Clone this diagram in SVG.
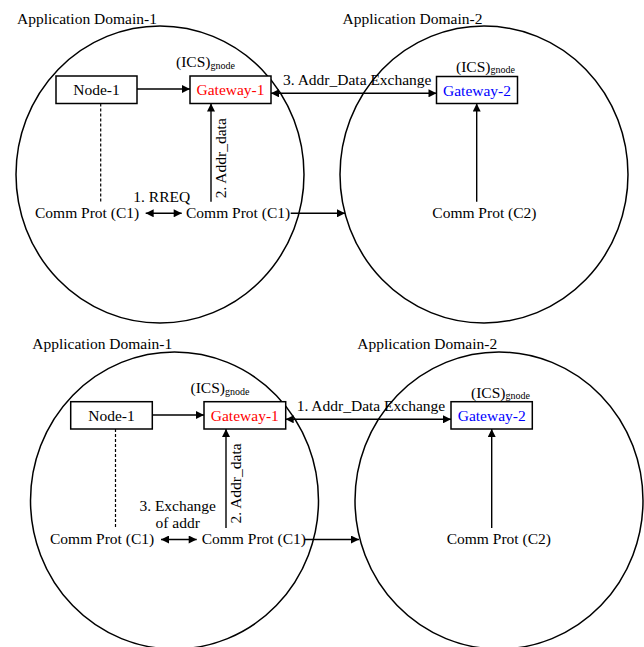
<svg xmlns="http://www.w3.org/2000/svg" width="644" height="647" viewBox="0 0 644 647">
<defs>
<marker id="ah" viewBox="0 0 10 10" refX="10" refY="5" markerWidth="9" markerHeight="8" markerUnits="userSpaceOnUse" orient="auto-start-reverse">
<path d="M0,0 L10,5 L0,10 z" fill="#000"/>
</marker>
<style>
text{font-family:"Liberation Serif","Times New Roman",serif;font-size:15.5px;fill:#000}
.sub{font-size:10px}
.dom{fill:none;stroke:#000;stroke-width:1.5}
.box{fill:#fff;stroke:#000;stroke-width:1.5}
.ln{fill:none;stroke:#000;stroke-width:1.4}
.arr{fill:none;stroke:#000;stroke-width:1.4;marker-end:url(#ah)}
.darr{fill:none;stroke:#000;stroke-width:1.4;marker-end:url(#ah);marker-start:url(#ah)}
.dot{fill:none;stroke:#000;stroke-width:1.2;stroke-dasharray:3,2}
.red{fill:#ff0000}
.blue{fill:#0000ff}
.mid{text-anchor:middle}
</style>
</defs>
<rect width="644" height="647" fill="#fff"/>

<!-- Top scenario -->
<g id="domain1-top">
<ellipse class="dom" cx="160" cy="174.5" rx="144" ry="148.5"/>
<text x="17" y="23.5">Application Domain-1</text>
</g>
<g id="domain2-top">
<ellipse class="dom" cx="484" cy="174.5" rx="144" ry="148.5"/>
<text x="342.5" y="23.5">Application Domain-2</text>
</g>
<g id="node1-top">
<rect class="box" x="56" y="76" width="81" height="27.5"/>
<text class="mid" x="96.5" y="95">Node-1</text>
</g>
<g id="gateway1-top">
<rect class="box" x="190" y="76" width="81" height="27.5"/>
<text class="mid red" x="230.5" y="95">Gateway-1</text>
<text x="176" y="67.3">(ICS)<tspan class="sub" dy="1.5">gnode</tspan></text>
</g>
<g id="gateway2-top">
<rect class="box" x="436.5" y="76.5" width="81" height="27"/>
<text class="mid blue" x="477" y="95.5">Gateway-2</text>
<text x="456" y="71.5">(ICS)<tspan class="sub" dy="1.5">gnode</tspan></text>
</g>
<g id="commC1a-top"><text x="35" y="218.3">Comm Prot (C1)</text></g>
<g id="commC1b-top"><text x="186" y="218.3">Comm Prot (C1)</text></g>
<g id="commC2-top"><text x="432.3" y="218.3">Comm Prot (C2)</text></g>

<g id="connectors-top">
<line class="arr" x1="137" y1="89" x2="190" y2="89"/>
<line class="darr" x1="271" y1="93.3" x2="436.5" y2="93.3"/>
<text x="283" y="85">3. Addr_Data Exchange</text>
<line class="dot" x1="100.7" y1="103.5" x2="100.7" y2="202"/>
<line class="darr" x1="145.7" y1="213.3" x2="181.7" y2="213.3"/>
<text x="133.3" y="201.7">1. RREQ</text>
<line class="arr" x1="290.7" y1="213.3" x2="345" y2="213.3"/>
<line class="arr" x1="211" y1="201.7" x2="211" y2="103.5"/>
<text transform="translate(226,198.3) rotate(-90)">2. Addr_data</text>
<line class="arr" x1="476.7" y1="201.7" x2="476.7" y2="103.5"/>
</g>

<!-- Bottom scenario -->
<g id="domain1-bottom">
<ellipse class="dom" cx="174.5" cy="500.5" rx="144" ry="148.5"/>
<text x="32.3" y="349.3">Application Domain-1</text>
</g>
<g id="domain2-bottom">
<ellipse class="dom" cx="499" cy="500.5" rx="144" ry="148.5"/>
<text x="357.3" y="349.3">Application Domain-2</text>
</g>
<g id="node1-bottom">
<rect class="box" x="70.7" y="401.7" width="81.6" height="27.3"/>
<text class="mid" x="111.5" y="421">Node-1</text>
</g>
<g id="gateway1-bottom">
<rect class="box" x="204" y="401.7" width="81.7" height="27.3"/>
<text class="mid red" x="244.8" y="421">Gateway-1</text>
<text x="190.5" y="393.3">(ICS)<tspan class="sub" dy="1.5">gnode</tspan></text>
</g>
<g id="gateway2-bottom">
<rect class="box" x="451" y="401.7" width="81.3" height="27.3"/>
<text class="mid blue" x="491.7" y="421">Gateway-2</text>
<text x="471" y="397.5">(ICS)<tspan class="sub" dy="1.5">gnode</tspan></text>
</g>
<g id="commC1a-bottom"><text x="50" y="544">Comm Prot (C1)</text></g>
<g id="commC1b-bottom"><text x="201.7" y="544">Comm Prot (C1)</text></g>
<g id="commC2-bottom"><text x="446.7" y="544">Comm Prot (C2)</text></g>

<g id="connectors-bottom">
<line class="arr" x1="152.3" y1="415" x2="204" y2="415"/>
<line class="darr" x1="285.7" y1="419.3" x2="451" y2="419.3"/>
<text x="296.7" y="411">1. Addr_Data Exchange</text>
<line class="dot" x1="115.5" y1="429" x2="115.5" y2="528"/>
<line class="darr" x1="161" y1="539.5" x2="196.7" y2="539.5"/>
<text class="mid" x="177.7" y="510.7">3. Exchange</text>
<text class="mid" x="177.7" y="528.3">of addr</text>
<line class="arr" x1="305" y1="539.5" x2="359" y2="539.5"/>
<line class="arr" x1="226" y1="528" x2="226" y2="429"/>
<text transform="translate(240.5,523.5) rotate(-90)">2. Addr_data</text>
<line class="arr" x1="491.7" y1="528" x2="491.7" y2="429"/>
</g>
</svg>
